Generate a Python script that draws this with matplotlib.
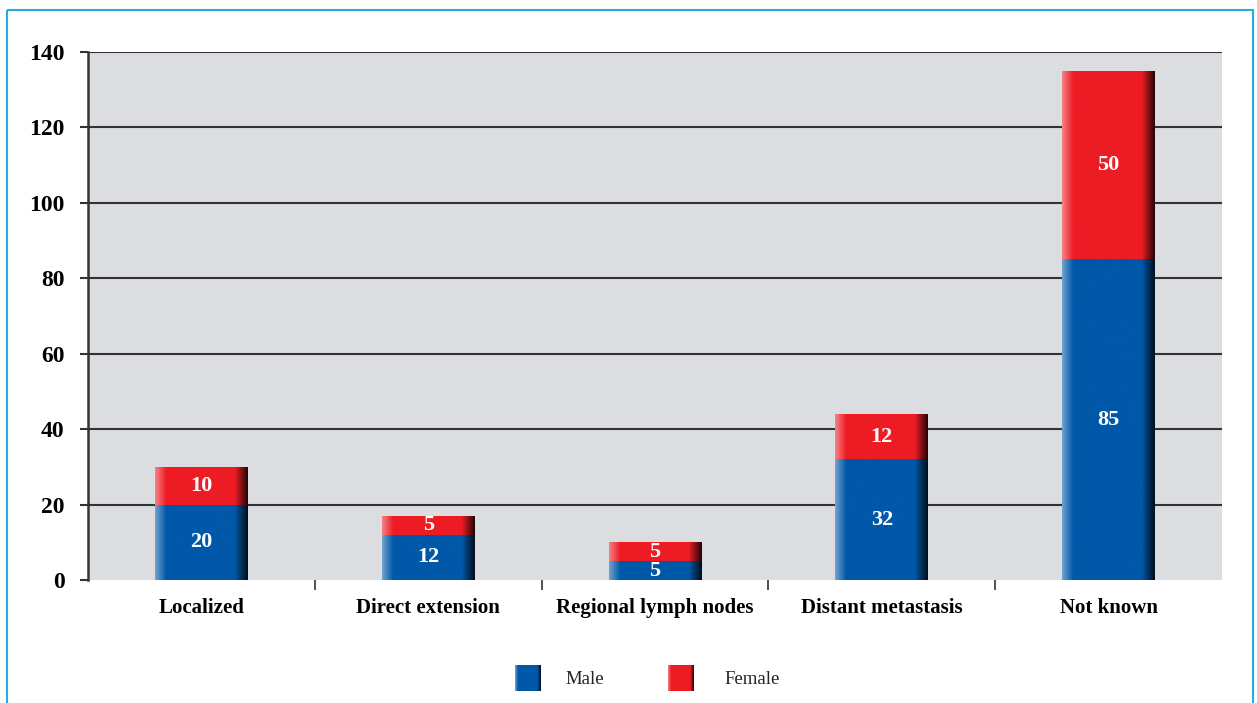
import numpy as np
import matplotlib.pyplot as plt
from matplotlib.colors import to_rgb
from matplotlib.patches import Rectangle

categories = ["Localized", "Direct extension", "Regional lymph nodes",
              "Distant metastasis", "Not known"]
male = [20, 12, 5, 32, 85]
female = [10, 5, 5, 12, 50]
yticks = [0, 20, 40, 60, 80, 100, 120, 140]

BLUE = "#0058a9"
RED = "#ed1c24"
BG = "#dcdde0"

plt.rcParams['font.family'] = ['Liberation Serif', 'DejaVu Serif']


def shaded_bar(ax, x, bottom, height, width, color):
    # horizontal gradient: light left edge, dark right edge
    base = np.array(to_rgb(color))
    n = 200
    t = np.linspace(0, 1, n)
    img = np.tile(base, (n, 1))
    left = t < 0.12
    k = (0.12 - t[left]) / 0.12
    img[left] = base + (1 - base) * (0.45 * k)[:, None]
    right = t > 0.86
    k = (t[right] - 0.86) / 0.14
    img[right] = base * (1 - 0.85 * k)[:, None]
    img = img[None, :, :]
    x0 = x - width / 2
    im = ax.imshow(img, extent=[x0, x0 + width, bottom, bottom + height],
                   aspect='auto', zorder=3, interpolation='bilinear')
    clip = Rectangle((x0, bottom), width, height, transform=ax.transData)
    im.set_clip_path(clip)


fig = plt.figure(figsize=(12.57, 7.03), dpi=100)
ax = fig.add_axes([88 / 1257, 1 - 580 / 703, (1222 - 88) / 1257, (580 - 52) / 703])
ax.set_facecolor(BG)

x = np.arange(len(categories))
w = 0.41
ax.set_xlim(-0.5, len(categories) - 0.5)
ax.set_ylim(0, 140)

for i in range(len(categories)):
    shaded_bar(ax, x[i], 0, male[i], w, BLUE)
    shaded_bar(ax, x[i], male[i], female[i], w, RED)
    ax.text(x[i], male[i] / 2, str(male[i]), ha='center', va='center',
            color='white', fontsize=16, fontweight='bold', zorder=4)
    ax.text(x[i], male[i] + female[i] / 2, str(female[i]), ha='center',
            va='center', color='white', fontsize=16, fontweight='bold', zorder=4)

for y in yticks[1:]:
    ax.axhline(y, color='#333333', lw=1.5, zorder=2)

ax.set_yticks(yticks)
ax.set_yticklabels([str(v) for v in yticks], fontsize=17, fontweight='bold')
ax.tick_params(axis='y', length=6, width=1.5, color='#333333', pad=11)

ax.set_xticks(x)
ax.set_xticklabels(categories, fontsize=15, fontweight='bold')
ax.tick_params(axis='x', length=0, pad=13)
ax.set_xticks(np.arange(0.5, len(categories) - 1, 1), minor=True)
ax.tick_params(axis='x', which='minor', length=7, width=1.2, color='#333333')

for s in ['top', 'right', 'bottom']:
    ax.spines[s].set_visible(False)
ax.spines['left'].set_color('#333333')
ax.spines['left'].set_linewidth(1.8)

# outer light-blue frame
frame = fig.add_axes([0, 0, 1, 1], zorder=-1)
frame.set_xlim(0, 1257)
frame.set_ylim(703, 0)
frame.axis('off')
frame.add_patch(Rectangle((7, 10), 1246, 720, fill=False, edgecolor='#29abe2', lw=1.5))

# legend drawn by hand as shaded squares
leg = fig.add_axes([0, 0, 1, 1], zorder=5)
leg.set_xlim(0, 1257)
leg.set_ylim(703, 0)
leg.axis('off')
for lx, tx, col, lab in [(528, 565, BLUE, "Male"), (681, 724, RED, "Female")]:
    shaded_bar(leg, lx, 665, 26, 26, col)
    leg.text(tx, 679, lab, fontsize=13.5, va='center', ha='left', color='#222222')
leg.set_ylim(703, 0)

fig.savefig("out.png", dpi=100, facecolor='white')
